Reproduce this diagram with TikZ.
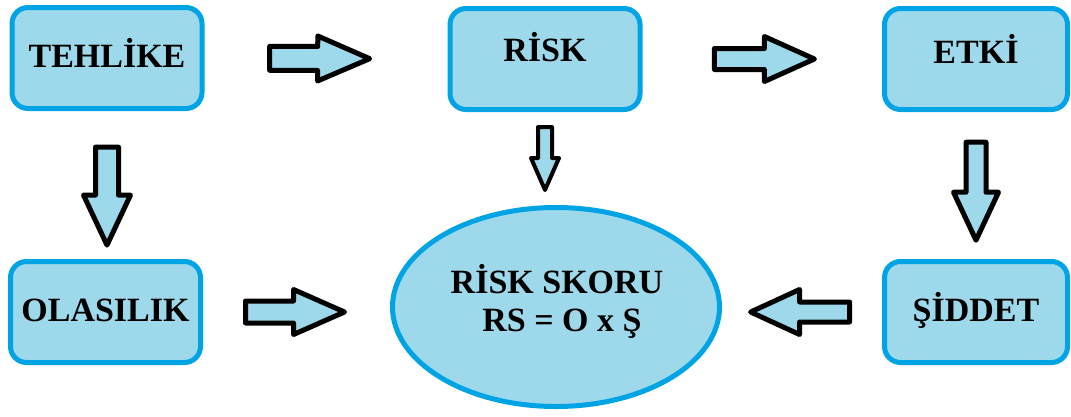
\documentclass[tikz,border=0pt]{standalone}
\usepackage{fontspec}
\setmainfont{Liberation Serif}
\usetikzlibrary{shapes.geometric,calc}

\definecolor{boxfill}{HTML}{9DD9EA}
\definecolor{boxedge}{HTML}{00A3E4}

\tikzset{
  label font/.style={font=\fontsize{34}{38}\selectfont\bfseries},
  stepbox/.style={draw=boxedge, fill=boxfill, line width=5pt,
    rounded corners=16pt, minimum height=101pt, inner sep=0pt,
    text height=23pt, label font},
  widebox/.style={stepbox, minimum width=190pt},
  narrowbox/.style={stepbox, minimum width=183pt},
  scorebox/.style={draw=boxedge, fill=boxfill, line width=5pt, ellipse,
    minimum width=327pt, minimum height=199pt, inner sep=0pt},
  arrowline/.style={draw=black, fill=boxfill, line width=5pt, line join=round},
  % block arrow pointing along +x: total length, shaft half width,
  % head half width, head length
  pics/blockarrow/.style n args={4}{code={
    \path[arrowline] (-#1/2,-#2) -- (#1/2-#4,-#2) -- (#1/2-#4,-#3) -- (#1/2,0)
      -- (#1/2-#4,#3) -- (#1/2-#4,#2) -- (-#1/2,#2) -- cycle;
  }},
  pics/smallarrow/.style n args={4}{code={
    \path[arrowline, line width=4pt] (-#1/2,-#2) -- (#1/2-#4,-#2) -- (#1/2-#4,-#3) -- (#1/2,0)
      -- (#1/2-#4,#3) -- (#1/2-#4,#2) -- (-#1/2,#2) -- cycle;
  }},
}

\begin{document}
\begin{tikzpicture}[x=1pt, y=-1pt]
  \useasboundingbox (0,0) rectangle (1071,416);

  % the five factor boxes
  \node[widebox, text depth=4.5pt]   (tehlike)  at (107,58)   {TEHLİKE};
  \node[widebox, text depth=18.5pt]  (risk)     at (545,59)   {RİSK};
  \node[narrowbox, text depth=14.5pt] (etki)    at (976,59)   {ETKİ};
  \node[widebox, text depth=4.5pt]   (olasilik) at (105.5,312) {OLASILIK};
  \node[narrowbox, text depth=4.5pt] (siddet)   at (976,312)  {ŞİDDET};

  % the score ellipse and its formula
  \node[scorebox] (score) at (556,307) {};
  \node[label font, anchor=base] (scoretop) at (557,293) {RİSK SKORU};
  \node[label font, anchor=base] (scorebot) at (562,331) {RS = O x Ş};

  % block arrows between the boxes
  \path (tehlike.east) -- (risk.west)
    pic[pos=0.474, sloped] {blockarrow={100}{12}{22.5}{52}};
  \path (risk.east) -- (etki.west)
    pic[pos=0.509, sloped] {blockarrow={100}{10.5}{22.5}{50}};
  \path (tehlike.south) -- (tehlike.south |- olasilik.north)
    pic[pos=0.575, sloped, allow upside down] {blockarrow={98}{11.5}{23.5}{50}};
  \path (etki.south) -- (etki.south |- siddet.north)
    pic[pos=0.539, sloped, allow upside down] {blockarrow={98}{10}{22.5}{48}};
  \path (risk.south) -- (risk.south |- score.north)
    pic[pos=0.5, sloped, allow upside down] {smallarrow={63}{7}{14}{32}};
  \path (olasilik.east) -- (olasilik.east -| score.west)
    pic[pos=0.492, sloped] {blockarrow={99}{11}{22.5}{51}};
  \path (siddet.west) -- (siddet.west -| score.east)
    pic[pos=0.512, sloped, allow upside down] {blockarrow={99}{10}{22.5}{49}};
\end{tikzpicture}
\end{document}
